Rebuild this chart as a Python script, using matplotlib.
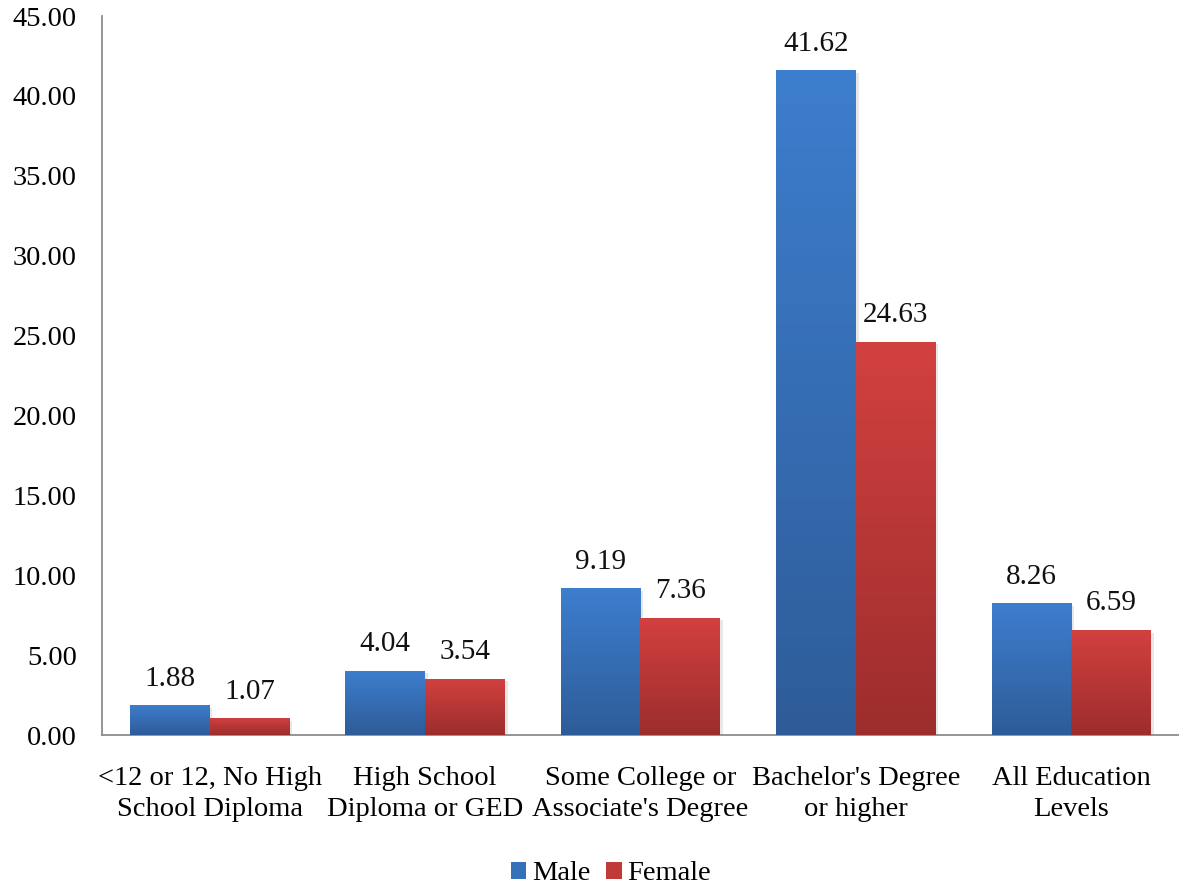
import numpy as np
import matplotlib
matplotlib.use("Agg")
import matplotlib.pyplot as plt
from matplotlib.colors import LinearSegmentedColormap
from matplotlib.patches import Patch
import matplotlib.patheffects as pe

categories = ["<12 or 12, No High\nSchool Diploma",
              "High School\nDiploma or GED",
              "Some College or\nAssociate's Degree",
              "Bachelor's Degree\nor higher",
              "All Education\nLevels"]
male = [1.88, 4.04, 9.19, 41.62, 8.26]
female = [1.07, 3.54, 7.36, 24.63, 6.59]
yticks = [0, 5, 10, 15, 20, 25, 30, 35, 40, 45]

plt.rcParams['font.family'] = ['Liberation Serif', 'DejaVu Serif']
FS = 20.5

fig = plt.figure(figsize=(11.79, 8.90), dpi=100)
ax = fig.add_axes([0.0865, 0.174, 0.9135, 0.808])

x = np.arange(len(categories))
w = 0.37
shadow = [pe.SimplePatchShadow(offset=(2, -2), shadow_rgbFace='#888888', alpha=0.2), pe.Normal()]
bm = ax.bar(x - w / 2, male, w, color='#3B7BCB', zorder=2, path_effects=shadow)
bf = ax.bar(x + w / 2, female, w, color='#CE3F3D', zorder=2, path_effects=shadow)

# vertical gradient fill inside each bar
blue_cmap = LinearSegmentedColormap.from_list('b', ['#2E5C98', '#3D7ECE'])
red_cmap = LinearSegmentedColormap.from_list('r', ['#9C2D2C', '#D24140'])
grad = np.linspace(0, 1, 256).reshape(-1, 1)
for bars, cmap in ((bm, blue_cmap), (bf, red_cmap)):
    for b in bars:
        x0, y0 = b.get_x(), b.get_y()
        x1, y1 = x0 + b.get_width(), y0 + b.get_height()
        im = ax.imshow(grad, cmap=cmap, origin='lower', aspect='auto',
                       extent=(x0, x1, y0, y1), zorder=3)
        im.set_clip_path(b)

for bars, vals in ((bm, male), (bf, female)):
    for b, v in zip(bars, vals):
        ax.text(b.get_x() + b.get_width() / 2, v + 1.65, f"{v:.2f}",
                ha='center', va='center', fontsize=FS + 0.5, color='#111111')

ax.set_xlim(-0.5, len(categories) - 0.5)
ax.set_ylim(0, 45)
ax.set_yticks(yticks)
ax.set_yticklabels([f"{t:.2f}" for t in yticks], fontsize=FS)
ax.set_xticks(x)
ax.set_xticklabels(categories, fontsize=FS, linespacing=1.35)
ax.tick_params(axis='both', length=0)
ax.tick_params(axis='y', pad=18)
ax.tick_params(axis='x', pad=22)
for s in ('top', 'right'):
    ax.spines[s].set_visible(False)
for s in ('left', 'bottom'):
    ax.spines[s].set_color('#8c8c8c')
    ax.spines[s].set_linewidth(1.3)

handles = [Patch(facecolor='#3570B8', label='Male'), Patch(facecolor='#C03A38', label='Female')]
fig.legend(handles=handles, loc='center', bbox_to_anchor=(0.518, 0.018), ncol=2,
           frameon=False, fontsize=FS, handlelength=0.55, handleheight=0.55,
           handletextpad=0.2, columnspacing=0.55, borderpad=0.1)

fig.savefig('out.png', dpi=100)
